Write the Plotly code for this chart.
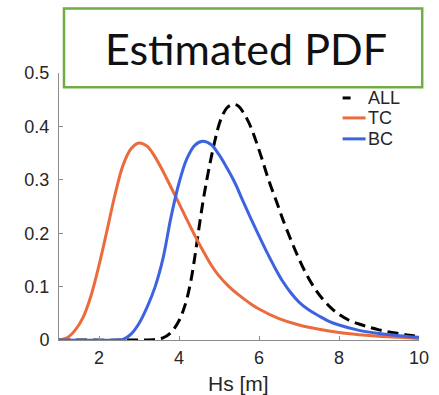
import plotly.graph_objects as go

# ---- data ----
all_x = [1.0, 3.0, 3.4, 3.6, 3.8, 4.0, 4.1, 4.2, 4.3, 4.4, 4.5, 4.6, 4.7, 4.8, 4.9, 5.0,
         5.1, 5.2, 5.3, 5.4, 5.5, 5.6, 5.7, 5.8, 5.9, 6.0, 6.1, 6.2, 6.3, 6.4, 6.5, 6.6,
         6.8, 7.0, 7.2, 7.4, 7.6, 7.8, 8.0, 8.25, 8.5, 8.75, 9.0, 9.25, 9.5, 9.75, 10.0]
all_y = [0.0, 0.0, 0.001, 0.004, 0.014, 0.036, 0.054, 0.078, 0.112, 0.158, 0.210, 0.259,
         0.302, 0.340, 0.374, 0.403, 0.423, 0.435, 0.440, 0.441, 0.437, 0.427, 0.414,
         0.398, 0.378, 0.356, 0.333, 0.309, 0.287, 0.267, 0.246, 0.225, 0.187, 0.152,
         0.121, 0.096, 0.076, 0.060, 0.048, 0.037, 0.030, 0.024, 0.019, 0.015, 0.012,
         0.009, 0.007]

tc_x = [1.0, 1.2, 1.4, 1.6, 1.8, 2.0, 2.2, 2.4, 2.6, 2.8, 3.0, 3.2, 3.4, 3.6, 3.8, 4.0,
        4.2, 4.4, 4.6, 4.8, 5.0, 5.25, 5.5, 5.75, 6.0, 6.5, 7.0, 7.5, 8.0, 8.5, 9.0, 9.5, 10.0]
tc_y = [0.0, 0.004, 0.018, 0.042, 0.083, 0.140, 0.205, 0.272, 0.327, 0.358, 0.369, 0.363,
        0.343, 0.316, 0.286, 0.256, 0.225, 0.195, 0.167, 0.141, 0.120, 0.100, 0.084,
        0.070, 0.058, 0.040, 0.028, 0.020, 0.014, 0.010, 0.007, 0.005, 0.003]

bc_x = [1.0, 2.5, 2.6, 2.8, 3.0, 3.2, 3.4, 3.6, 3.8, 4.0, 4.2, 4.4, 4.6, 4.8, 5.0, 5.2,
        5.4, 5.6, 5.8, 6.0, 6.2, 6.4, 6.6, 6.8, 7.0, 7.25, 7.5, 7.75, 8.0, 8.5, 9.0, 9.5, 10.0]
bc_y = [0.0, 0.0, 0.001, 0.011, 0.031, 0.061, 0.099, 0.153, 0.230, 0.294, 0.340, 0.365,
        0.372, 0.366, 0.347, 0.322, 0.294, 0.260, 0.227, 0.195, 0.164, 0.135, 0.109,
        0.088, 0.071, 0.056, 0.045, 0.035, 0.028, 0.018, 0.012, 0.008, 0.005]

series_names = ["ALL", "TC", "BC"]
title_text = "Estimated PDF"
x_title = "Hs [m]"
x_ticks = [2, 4, 6, 8, 10]
y_ticks = [0, 0.1, 0.2, 0.3, 0.4, 0.5]

# ---- styles ----
C_ALL = "#000000"
C_TC = "#EC6B3D"
C_BC = "#3D63E0"
AX = "#8c8c8c"
TXT = "#262626"
FONT = "Liberation Sans, Arial"

fig = go.Figure()
fig.add_trace(go.Scatter(x=all_x, y=all_y, mode="lines", name=series_names[0],
                         line=dict(color=C_ALL, width=3, dash="11px,6px", shape="spline", smoothing=1.0)))
fig.add_trace(go.Scatter(x=tc_x, y=tc_y, mode="lines", name=series_names[1],
                         line=dict(color=C_TC, width=3, shape="spline", smoothing=1.0)))
fig.add_trace(go.Scatter(x=bc_x, y=bc_y, mode="lines", name=series_names[2],
                         line=dict(color=C_BC, width=3, shape="spline", smoothing=1.0)))

# plot area in px: x 59..419.5, y 73..340.5
L, R, T, B = 59, 419.5, 73, 340.5
W, H = R - L, B - T
def px(x):
    return (x - L) / W
def py(y):
    return (B - y) / H

shapes = []
annotations = []
# custom legend
legend_rows = [(98, 351, C_ALL), (118, 366, C_TC), (139, 366, C_BC)]
for (yy, xend, col), name in zip(legend_rows, series_names):
    shapes.append(dict(type="line", xref="paper", yref="paper",
                       x0=px(343), x1=px(xend), y0=py(yy), y1=py(yy),
                       line=dict(color=col, width=3)))
    annotations.append(dict(xref="paper", yref="paper", x=px(366), y=py(yy),
                            text=name, showarrow=False, xanchor="left", yanchor="middle",
                            font=dict(family=FONT, size=18, color=TXT)))

# title box
shapes.append(dict(type="rect", xref="paper", yref="paper", layer="above",
                   x0=px(64), x1=px(422.7), y0=py(87.3), y1=py(8.3),
                   line=dict(color="#70AD47", width=2.5), fillcolor="white"))
annotations.append(dict(xref="paper", yref="paper", x=px(246), y=py(48),
                        text=title_text, showarrow=False, xanchor="center", yanchor="middle",
                        font=dict(family="Lato", size=43, color="#111111")))
# x axis title
annotations.append(dict(xref="paper", yref="paper", x=px(239), y=py(384),
                        text=x_title, showarrow=False, xanchor="center", yanchor="middle",
                        font=dict(family=FONT, size=21, color=TXT)))

fig.update_layout(
    width=439, height=395,
    margin=dict(l=L, r=439 - R, t=T, b=395 - B, autoexpand=False),
    paper_bgcolor="white", plot_bgcolor="white",
    showlegend=False,
    shapes=shapes, annotations=annotations,
    font=dict(family=FONT, size=18, color=TXT),
)
fig.update_xaxes(range=[1, 10], tickvals=x_ticks, showgrid=False, zeroline=False,
                 showline=True, linecolor=AX, linewidth=1, ticks="inside", ticklen=4,
                 tickcolor=AX, ticklabelstandoff=1, automargin=False,
                 tickfont=dict(size=18, color=TXT))
fig.update_yaxes(range=[0, 0.5], tickvals=y_ticks, showgrid=False, zeroline=False,
                 showline=True, linecolor=AX, linewidth=1, ticks="inside", ticklen=4,
                 tickcolor=AX, ticklabelstandoff=5, automargin=False,
                 tickfont=dict(size=18, color=TXT))

fig.write_html("out.html")
